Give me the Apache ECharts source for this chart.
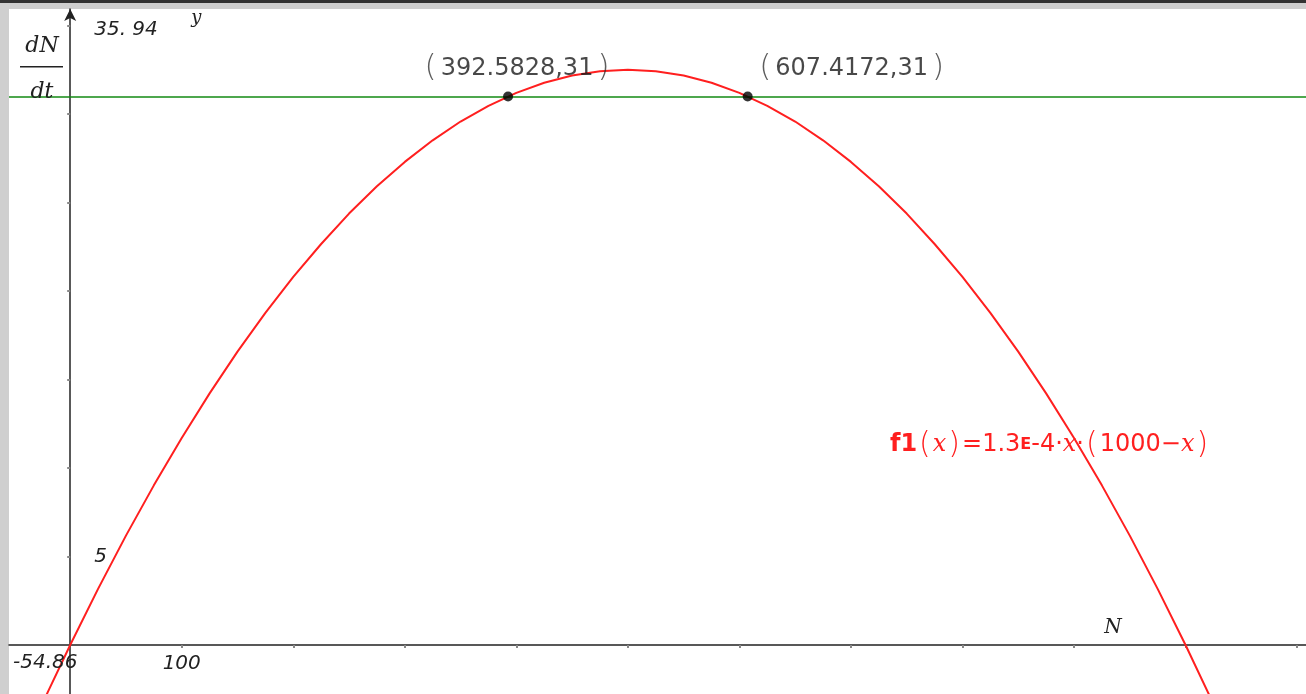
<!DOCTYPE html>
<html><head><meta charset="utf-8">
<script src="https://cdn.jsdelivr.net/npm/echarts@6/dist/echarts.min.js"></script>
<style>html,body{margin:0;padding:0;background:#fff;overflow:hidden}#c{width:1306px;height:694px}</style>
</head><body><div id="c"></div>
<script>
// values
const curveX = [-40, -20, 0, 25, 50, 75, 100, 125, 150, 175, 200, 225, 250, 275, 300, 325, 350, 375, 400, 425, 450, 475, 500, 525, 550, 575, 600, 625, 650, 675, 700, 725, 750, 775, 800, 825, 850, 875, 900, 925, 950, 975, 1000, 1025, 1050];
const curveY = [-5.4, -2.65, 0, 3.17, 6.18, 9.02, 11.7, 14.22, 16.58, 18.77, 20.8, 22.66, 24.38, 25.92, 27.3, 28.52, 29.58, 30.47, 31.2, 31.77, 32.18, 32.42, 32.5, 32.42, 32.18, 31.77, 31.2, 30.47, 29.58, 28.52, 27.3, 25.92, 24.38, 22.66, 20.8, 18.77, 16.58, 14.22, 11.7, 9.02, 6.18, 3.17, 0, -3.33, -6.83];
const pointX = [392.5828, 607.4172];
const pointY = [31, 31];
const pointLabels = ['392.5828,31', '607.4172,31'];
const hLineY = 31;
const xMin = -54.86, xMax = 1108;
const yMin = -2.77, yMax = 35.94;
const xTicks = [100, 200, 300, 400, 500, 600, 700, 800, 900, 1000, 1100];
const xTickLabels = [100];
const yTicks = [5, 10, 15, 20, 25, 30, 35];
const yTickLabels = [5];
const xMinLabel = '-54.86', yMaxLabel = '35. 94';
const xName = 'N', yName = 'y';

const chart = echarts.init(document.getElementById('c'));
const labelOffsets = [[9, -28], [104, -28]];
const RED = '#ff1f1f';

chart.setOption({
  animation: false,
  grid: {left: 9, top: 9, right: 0, bottom: 0, containLabel: false, outerBoundsMode: 'none'},
  xAxis: {
    type: 'value', min: xMin, max: xMax,
    axisLine: {onZero: true, lineStyle: {color: '#222', width: 1.5}},
    axisTick: {show: true, customValues: xTicks, length: 3, lineStyle: {color: '#888', width: 2}},
    axisLabel: {show: false},
    splitLine: {show: false}
  },
  yAxis: {
    type: 'value', min: yMin, max: yMax,
    axisLine: {onZero: true, symbol: ['none', 'arrow'], symbolSize: [9, 12], lineStyle: {color: '#222', width: 1.5}},
    axisTick: {show: true, customValues: yTicks, length: 3, lineStyle: {color: '#888', width: 2}},
    axisLabel: {show: false},
    splitLine: {show: false}
  },
  series: [
    {
      type: 'line', data: curveX.map((x, i) => [x, curveY[i]]), showSymbol: false, clip: true,
      lineStyle: {color: RED, width: 2}, z: 3,
      markLine: {
        silent: true, symbol: 'none', label: {show: false},
        lineStyle: {color: '#138a13', width: 1.5, type: 'solid'},
        data: [{yAxis: hLineY}]
      }
    },
    {
      type: 'scatter', symbolSize: 10, itemStyle: {color: '#000'}, z: 5,
      data: pointX.map((x, i) => ({
        value: [x, pointY[i]],
        label: {
          show: true, position: 'inside', offset: labelOffsets[i],
          formatter: '{p|(}{n|' + pointLabels[i] + '}{p|)}',
          rich: {
            p: {fontFamily: 'DejaVu Sans', fontSize: 31, color: '#333', fontWeight: 'lighter', padding: [0, 4]},
            n: {fontFamily: 'DejaVu Sans', fontSize: 24, color: '#1a1a1a'}
          }
        }
      }))
    }
  ]
});

const px = (x, y) => chart.convertToPixel({gridIndex: 0}, [x, y]);
const p0 = px(0, 0), pMinX = px(xMin, 0), pTop = px(0, yMax), pN = px(935, 0), pY = px(113, yMax);
const pF = px(735, 11.3);
const txt = (x, y, text, font, align) => ({type: 'text', x, y, z: 10, style: {text, font, fill: '#222', align: align || 'left', verticalAlign: 'middle'}});
const graphics = [
  {type: 'rect', shape: {x: 0, y: 0, width: 1306, height: 3}, style: {fill: '#333'}, silent: true},
  {type: 'rect', shape: {x: 0, y: 3, width: 1306, height: 6}, style: {fill: '#cfcfcf'}, silent: true},
  {type: 'rect', shape: {x: 0, y: 3, width: 9, height: 691}, style: {fill: '#cfcfcf'}, silent: true},
  txt(pMinX[0] + 4, p0[1] + 18, xMinLabel, 'italic 20px "DejaVu Sans"'),
  txt(pTop[0] + 24, pTop[1] + 21, yMaxLabel, 'italic 20px "DejaVu Sans"'),
  txt(pY[0], pY[1] + 9, yName, 'italic 18px "DejaVu Serif"', 'center'),
  txt(pN[0], p0[1] - 17, xName, 'italic 20px "DejaVu Serif"', 'center'),
  txt(42, 46, 'dN', 'italic 22px "DejaVu Serif"', 'center'),
  {type: 'rect', shape: {x: 20, y: 66, width: 43, height: 1.5}, style: {fill: '#222'}},
  txt(42, 92, 'dt', 'italic 22px "DejaVu Serif"', 'center')
];
xTickLabels.forEach(v => { const p = px(v, 0); graphics.push(txt(p[0], p[1] + 19, String(v), 'italic 20px "DejaVu Sans"', 'center')); });
yTickLabels.forEach(v => { const p = px(0, v); graphics.push(txt(p[0] + 24, p[1], String(v), 'italic 20px "DejaVu Sans"')); });
graphics.push({type: 'text', x: pF[0], y: pF[1], z: 10, style: {
  text: '{b|f1}{p|(}{i|x}{p|)}{n|=1.3}{e|E}{n|-4·}{i|x}{n|·}{p|(}{n|1000−}{i|x}{p|)}',
  verticalAlign: 'middle',
  rich: {
    b: {fontFamily: 'DejaVu Sans', fontWeight: 'bold', fontSize: 24, fill: RED},
    p: {fontFamily: 'DejaVu Sans', fontSize: 30, fill: RED, fontWeight: 'lighter', padding: [0, 2]},
    i: {fontFamily: 'DejaVu Serif', fontStyle: 'italic', fontSize: 24, fill: RED},
    n: {fontFamily: 'DejaVu Sans', fontSize: 24, fill: RED},
    e: {fontFamily: 'DejaVu Sans', fontWeight: 'bold', fontSize: 16, fill: RED}
  }
}});
chart.setOption({graphic: graphics});
</script></body></html>
